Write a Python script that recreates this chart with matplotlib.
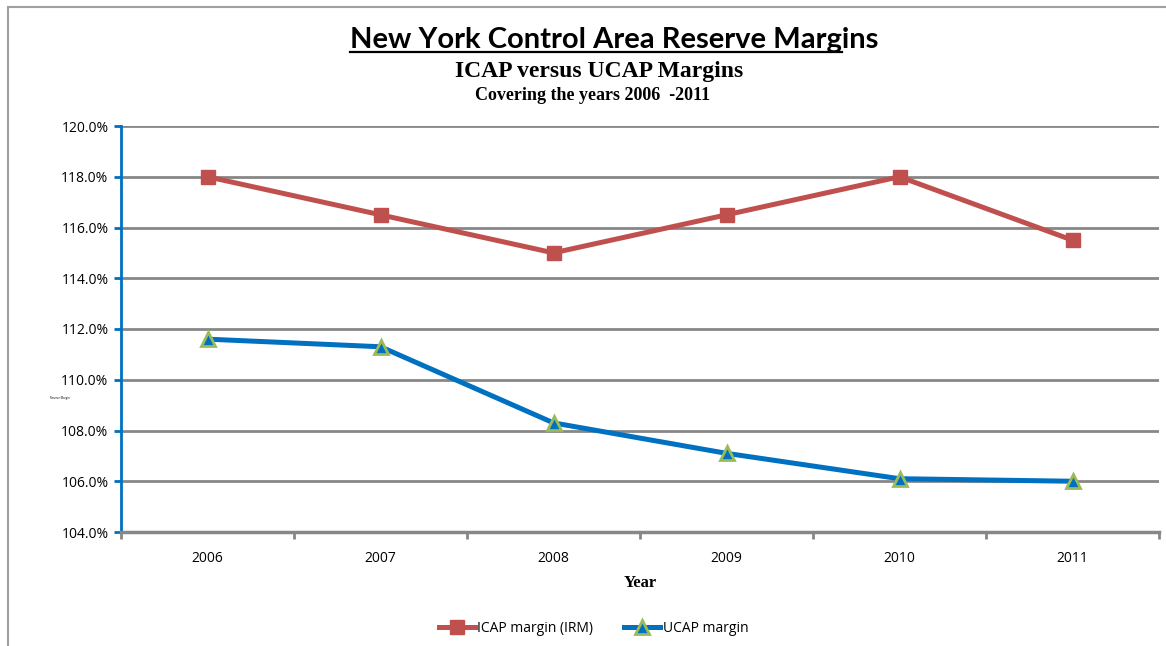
import matplotlib
matplotlib.use("Agg")
import matplotlib.pyplot as plt
from matplotlib.lines import Line2D
from matplotlib.ticker import FixedLocator, FuncFormatter

years = ["2006", "2007", "2008", "2009", "2010", "2011"]
icap_margin = [118.0, 116.5, 115.0, 116.5, 118.0, 115.5]
ucap_margin = [111.6, 111.3, 108.3, 107.1, 106.1, 106.0]
y_ticks = [104, 106, 108, 110, 112, 114, 116, 118, 120]

RED = "#C0504D"
BLUE = "#0070C0"
GREEN = "#9BBB59"
GRID = "#878787"
SANS = ["Open Sans", "DejaVu Sans"]
SERIF = ["Liberation Serif", "DejaVu Serif"]

fig = plt.figure(figsize=(11.66, 6.46), dpi=100)
ax = fig.add_axes([121 / 1166, 1 - 532 / 646, (1159 - 121) / 1166, (532 - 126) / 646])

x = list(range(len(years)))
ax.plot(x, icap_margin, color=RED, lw=3.6, marker="s", ms=10,
        mfc=RED, mec=RED, label="ICAP margin (IRM)", zorder=3)
ax.plot(x, ucap_margin, color=BLUE, lw=3.6, marker="^", ms=10,
        mfc=BLUE, mec=GREEN, mew=2, label="UCAP margin", zorder=3)

ax.set_xlim(-0.5, len(years) - 0.5)
ax.set_ylim(104, 120)
ax.set_yticks(y_ticks)
ax.yaxis.set_major_formatter(FuncFormatter(lambda v, p: f"{v:.1f}%"))
ax.set_xticks(x)
ax.set_xticklabels(years)
ax.xaxis.set_minor_locator(FixedLocator([i - 0.5 for i in range(len(years) + 1)]))
ax.tick_params(axis="x", which="major", length=0, pad=14, labelsize=10)
ax.tick_params(axis="x", which="minor", length=5, width=2, color=GRID, direction="out")
ax.tick_params(axis="y", length=5, width=2, color=BLUE, labelsize=10, pad=4)
for lab in ax.get_xticklabels() + ax.get_yticklabels():
    lab.set_family(SANS)

ax.grid(axis="y", color=GRID, lw=2)
ax.set_axisbelow(True)
for s in ["top", "right"]:
    ax.spines[s].set_visible(False)
ax.spines["left"].set_color(BLUE)
ax.spines["left"].set_linewidth(2)
ax.spines["bottom"].set_color(GRID)
ax.spines["bottom"].set_linewidth(2.5)

ax.set_xlabel("Year", family=SERIF, fontweight="bold", fontsize=12, labelpad=6)
fig.text(50 / 1166, 1 - 398 / 646, "Reserve Margin", fontsize=2, family=SANS,
         ha="left", va="center")

title = fig.text(0.527, 1 - 40 / 646, "New York Control Area Reserve Margins",
                 family=["Lato", "DejaVu Sans"], fontweight="bold", fontsize=21,
                 ha="center", va="center")
fig.text(0.514, 1 - 72 / 646, "ICAP versus UCAP Margins", family=SERIF,
         fontweight="bold", fontsize=17, ha="center", va="center")
fig.text(0.508, 1 - 95 / 646, "Covering the years 2006  -2011", family=SERIF,
         fontweight="bold", fontsize=13, ha="center", va="center")

# underline the main title (the original underline stops short of the last letters)
fig.canvas.draw()
bb = title.get_window_extent().transformed(fig.transFigure.inverted())
uy = bb.y0 + 0.002
fig.add_artist(Line2D([bb.x0, bb.x0 + 0.93 * bb.width], [uy, uy], color="black", lw=1.6))

# chart frame
fig.add_artist(Line2D([8 / 1166, 8 / 1166], [0, 1 - 7 / 646], color="#A0A0A0", lw=1.5))
fig.add_artist(Line2D([8 / 1166, 1], [1 - 7 / 646, 1 - 7 / 646], color="#A0A0A0", lw=1.5))

fig.legend(loc="center", bbox_to_anchor=(0.509, 1 - 628 / 646), ncol=2, frameon=False,
           prop={"family": SANS, "size": 10}, handlelength=2.6, handletextpad=0.2,
           columnspacing=2.2)

fig.savefig("out.png", dpi=100)
